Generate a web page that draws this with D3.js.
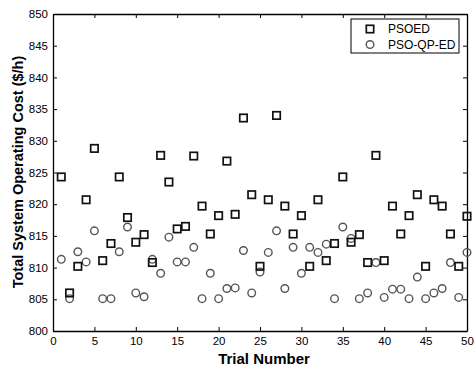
<!DOCTYPE html>
<html>
<head>
<meta charset="utf-8">
<script src="https://cdn.jsdelivr.net/npm/d3@7"></script>
<style>
  body { margin: 0; background: #fff; }
  text { font-family: "Liberation Sans", Arial, sans-serif; }
</style>
</head>
<body>
<div id="chart"></div>
<script>
// trial numbers 1..50
const trials = d3.range(1, 51);

// PSOED cost per trial ($/h)
const psoed = [
  824.3, 806.0, 810.2, 820.7, 828.8, 811.1, 813.8, 824.3, 817.9, 814.0,
  815.2, 810.8, 827.7, 823.5, 816.1, 816.5, 827.6, 819.7, 815.3, 818.2,
  826.8, 818.4, 833.6, 821.5, 810.2, 820.7, 834.0, 819.7, 815.3, 818.2,
  810.2, 820.7, 811.1, 813.8, 824.3, 814.0, 815.2, 810.8, 827.7, 811.1,
  819.7, 815.3, 818.2, 821.5, 810.2, 820.7, 819.7, 815.3, 810.2, 818.1
];

// PSO-QP-ED cost per trial ($/h)
const psoqped = [
  811.3, 805.1, 812.5, 810.9, 815.8, 805.1, 805.1, 812.5, 816.4, 806.0,
  805.4, 811.3, 809.1, 814.8, 810.9, 810.9, 813.2, 805.1, 809.1, 805.1,
  806.7, 806.8, 812.7, 806.0, 809.3, 812.4, 815.8, 806.7, 813.2, 809.1,
  813.2, 812.4, 813.7, 805.1, 816.4, 814.6, 805.1, 806.0, 810.8, 805.3,
  806.6, 806.6, 805.1, 808.5, 805.1, 806.0, 806.7, 810.8, 805.3, 812.4
];

const xTicks = d3.range(0, 51, 5);
const yTicks = d3.range(800, 851, 5);

const W = 474, H = 367;
const margin = { top: 14, right: 7, bottom: 36, left: 53 };
const width = W - margin.left - margin.right;
const height = H - margin.top - margin.bottom;

const svg = d3.select('#chart')
  .append('svg')
  .attr('width', W)
  .attr('height', H);

const g = svg.append('g')
  .attr('transform', `translate(${margin.left}, ${margin.top})`);

const xScale = d3.scaleLinear().domain([0, 50]).range([0, width]);
const yScale = d3.scaleLinear().domain([800, 850]).range([height, 0]);

// axes, matlab style: ticks point inward on all four sides
const tickLen = 4;
const xAxis = g.append('g')
  .attr('transform', `translate(0, ${height})`)
  .call(d3.axisBottom(xScale).tickValues(xTicks).tickSizeInner(-tickLen).tickSizeOuter(0).tickPadding(6));
const yAxis = g.append('g')
  .call(d3.axisLeft(yScale).tickValues(yTicks).tickSizeInner(-tickLen).tickSizeOuter(0).tickPadding(5));
const xTop = g.append('g')
  .call(d3.axisTop(xScale).tickValues(xTicks).tickSizeInner(-tickLen).tickSizeOuter(0).tickFormat(''));
const yRight = g.append('g')
  .attr('transform', `translate(${width}, 0)`)
  .call(d3.axisRight(yScale).tickValues(yTicks).tickSizeInner(-tickLen).tickSizeOuter(0).tickFormat(''));

[xAxis, yAxis, xTop, yRight].forEach(a => {
  a.select('.domain').attr('stroke', '#000').attr('stroke-width', 1.3);
  a.selectAll('.tick line').attr('stroke', '#000').attr('stroke-width', 1);
  a.selectAll('.tick text')
    .attr('fill', '#000')
    .style('font-size', '11.5px')
    .style('font-family', '"Liberation Sans", Arial, sans-serif');
});

// markers
const data1 = trials.map((t, i) => ({ t: t, v: psoed[i] }));
const data2 = trials.map((t, i) => ({ t: t, v: psoqped[i] }));
const sq = 7.4;

g.selectAll('.c2')
  .data(data2)
  .enter()
  .append('circle')
  .attr('class', 'c2')
  .attr('cx', d => xScale(d.t))
  .attr('cy', d => yScale(d.v))
  .attr('r', 3.8)
  .attr('fill', 'none')
  .attr('stroke', '#555')
  .attr('stroke-width', 1.4);

g.selectAll('.s1')
  .data(data1)
  .enter()
  .append('rect')
  .attr('class', 's1')
  .attr('x', d => xScale(d.t) - sq / 2)
  .attr('y', d => yScale(d.v) - sq / 2)
  .attr('width', sq)
  .attr('height', sq)
  .attr('fill', 'none')
  .attr('stroke', '#111')
  .attr('stroke-width', 1.7);

// legend
const legend = svg.append('g').attr('transform', 'translate(351, 19)');
legend.append('rect')
  .attr('width', 108)
  .attr('height', 34)
  .attr('fill', '#fff')
  .attr('stroke', '#000')
  .attr('stroke-width', 1);
legend.append('rect')
  .attr('x', 19 - sq / 2).attr('y', 10 - sq / 2)
  .attr('width', sq).attr('height', sq)
  .attr('fill', 'none').attr('stroke', '#111').attr('stroke-width', 1.7);
legend.append('circle')
  .attr('cx', 19).attr('cy', 25.5).attr('r', 3.8)
  .attr('fill', 'none').attr('stroke', '#555').attr('stroke-width', 1.4);
legend.append('text')
  .attr('x', 37).attr('y', 14)
  .style('font-size', '12px')
  .text('PSOED');
legend.append('text')
  .attr('x', 37).attr('y', 29.5)
  .style('font-size', '12px')
  .text('PSO-QP-ED');

// axis titles
svg.append('text')
  .attr('x', 264)
  .attr('y', 364)
  .attr('text-anchor', 'middle')
  .style('font-size', '15px')
  .style('font-weight', 'bold')
  .text('Trial Number');

svg.append('text')
  .attr('transform', `translate(23, 172) rotate(-90)`)
  .attr('text-anchor', 'middle')
  .style('font-size', '14.5px')
  .style('font-weight', 'bold')
  .text('Total System Operating Cost ($/h)');
</script>
</body>
</html>
